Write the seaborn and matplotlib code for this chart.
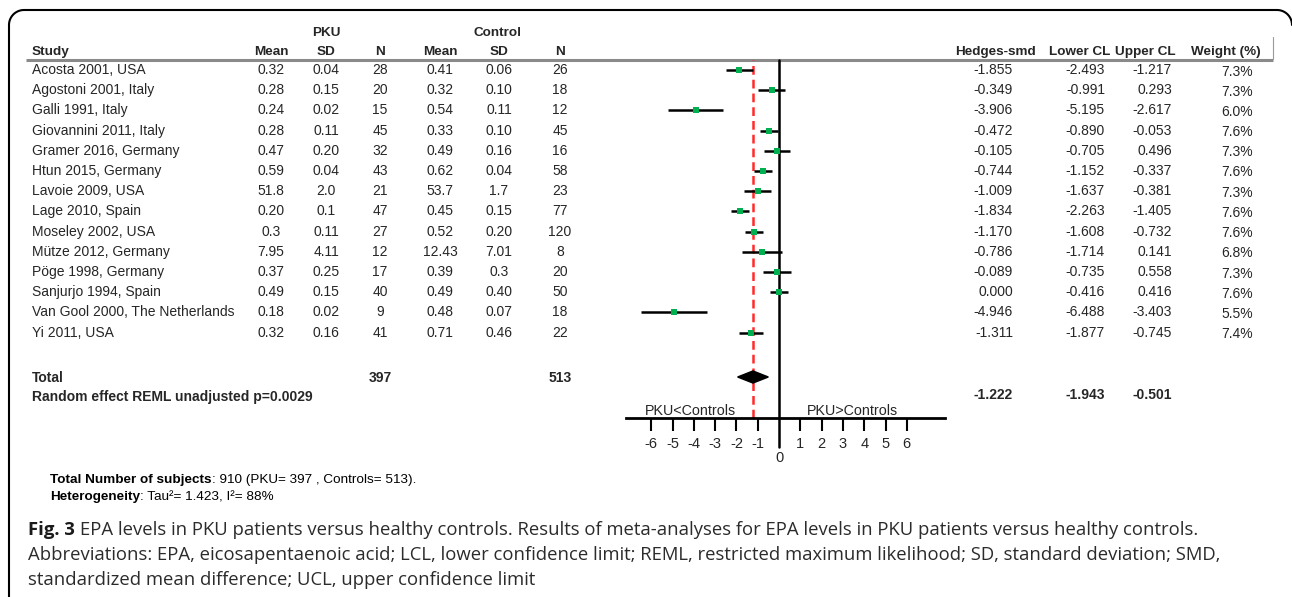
import matplotlib
matplotlib.use("Agg")
import matplotlib.pyplot as plt
import seaborn as sns
import numpy as np
import pandas as pd
from matplotlib.patches import Polygon

# ---------------- data ----------------
studies = ["Acosta 2001, USA", "Agostoni 2001, Italy", "Galli 1991, Italy",
           "Giovannini 2011, Italy", "Gramer 2016, Germany", "Htun 2015, Germany",
           "Lavoie 2009, USA", "Lage 2010, Spain", "Moseley 2002, USA",
           "Mütze 2012, Germany", "Pöge 1998, Germany", "Sanjurjo 1994, Spain",
           "Van Gool 2000, The Netherlands", "Yi 2011, USA"]
pku_mean = ["0.32", "0.28", "0.24", "0.28", "0.47", "0.59", "51.8", "0.20", "0.3",
            "7.95", "0.37", "0.49", "0.18", "0.32"]
pku_sd = ["0.04", "0.15", "0.02", "0.11", "0.20", "0.04", "2.0", "0.1", "0.11",
          "4.11", "0.25", "0.15", "0.02", "0.16"]
pku_n = [28, 20, 15, 45, 32, 43, 21, 47, 27, 12, 17, 40, 9, 41]
ctl_mean = ["0.41", "0.32", "0.54", "0.33", "0.49", "0.62", "53.7", "0.45", "0.52",
            "12.43", "0.39", "0.49", "0.48", "0.71"]
ctl_sd = ["0.06", "0.10", "0.11", "0.10", "0.16", "0.04", "1.7", "0.15", "0.20",
          "7.01", "0.3", "0.40", "0.07", "0.46"]
ctl_n = [26, 18, 12, 45, 16, 58, 23, 77, 120, 8, 20, 50, 18, 22]
hedges = [-1.855, -0.349, -3.906, -0.472, -0.105, -0.744, -1.009, -1.834, -1.170,
          -0.786, -0.089, 0.000, -4.946, -1.311]
lower_cl = [-2.493, -0.991, -5.195, -0.890, -0.705, -1.152, -1.637, -2.263, -1.608,
            -1.714, -0.735, -0.416, -6.488, -1.877]
upper_cl = [-1.217, 0.293, -2.617, -0.053, 0.496, -0.337, -0.381, -1.405, -0.732,
            0.141, 0.558, 0.416, -3.403, -0.745]
weights = [7.3, 7.3, 6.0, 7.6, 7.3, 7.6, 7.3, 7.6, 7.6, 6.8, 7.3, 7.6, 5.5, 7.4]
pooled_est, pooled_lo, pooled_hi = -1.222, -1.943, -0.501
total_pku, total_ctl = 397, 513
axis_ticks = [-6, -5, -4, -3, -2, -1, 1, 2, 3, 4, 5, 6]

df = pd.DataFrame({"study": studies, "smd": hedges, "lo": lower_cl, "hi": upper_cl,
                   "row": np.arange(len(studies))})

# ---------------- figure ----------------
sns.set_theme(style="white")
plt.rcParams["font.family"] = ["Liberation Sans", "DejaVu Sans"]
plt.rcParams["axes.unicode_minus"] = False

W, H = 1292, 597
fig = plt.figure(figsize=(W / 100, H / 100), dpi=100)
bg = fig.add_axes([0, 0, 1, 1])
bg.set_xlim(0, W)
bg.set_ylim(H, 0)
bg.axis("off")

# rounded frame: left side + top with rounded corners (right side is off the picture)
rad = 15
t1 = np.linspace(np.pi, 1.5 * np.pi, 20)
t2 = np.linspace(1.5 * np.pi, 2 * np.pi, 20)
fx = np.concatenate([[9], 9 + rad + rad * np.cos(t1), 1277 + rad * np.cos(t2)])
fy = np.concatenate([[H + 5], 10 + rad + rad * np.sin(t1), 10 + rad + rad * np.sin(t2)])
bg.plot(fx, fy, color="black", lw=1.5)

FS = 10
HFS = 9.7
y0, dy = 70, 20.2

# header
bg.text(326, 33, "PKU", ha="center", va="center", fontsize=HFS, fontweight="bold")
bg.text(498, 33, "Control", ha="center", va="center", fontsize=HFS, fontweight="bold")
bg.text(32, 52, "Study", ha="left", va="center", fontsize=HFS, fontweight="bold")
col_x = [271, 326, 380, 440, 499, 560]
for x, h in zip(col_x, ["Mean", "SD", "N", "Mean", "SD", "N"]):
    bg.text(x, 52, h, ha="center", va="center", fontsize=HFS, fontweight="bold")
for x, h in zip([995, 1080, 1145, 1226], ["Hedges-smd", "Lower CL", "Upper CL", "Weight (%)"]):
    bg.text(x, 52, h, ha="center", va="center", fontsize=HFS, fontweight="bold")
bg.plot([26, 1273], [59.5, 59.5], color="#8a8a8a", lw=2.2, solid_capstyle="butt")
bg.plot([1273, 1273], [37, 59], color="#9a9a9a", lw=0.8)

# rows
right_x = [1013, 1105, 1172]
for i in range(len(studies)):
    y = y0 + dy * i
    bg.text(32, y, studies[i], ha="left", va="center", fontsize=FS)
    for x, v in zip(col_x, [pku_mean[i], pku_sd[i], pku_n[i], ctl_mean[i], ctl_sd[i], ctl_n[i]]):
        bg.text(x, y, str(v), ha="center", va="center", fontsize=FS)
    for x, v in zip(right_x, [hedges[i], lower_cl[i], upper_cl[i]]):
        bg.text(x, y, f"{v:.3f}", ha="right", va="center", fontsize=FS)
    bg.text(1253, y + 1.5, f"{weights[i]:.1f}%", ha="right", va="center", fontsize=FS)

# totals
bg.text(32, 378, "Total", ha="left", va="center", fontsize=FS, fontweight="bold")
bg.text(380, 378, str(total_pku), ha="center", va="center", fontsize=FS, fontweight="bold")
bg.text(560, 378, str(total_ctl), ha="center", va="center", fontsize=FS, fontweight="bold")
bg.text(32, 397, "Random effect REML unadjusted p=0.0029", ha="left", va="center",
        fontsize=FS, fontweight="bold")
for x, v in zip(right_x, [pooled_est, pooled_lo, pooled_hi]):
    bg.text(x, 395, f"{v:.3f}", ha="right", va="center", fontsize=FS, fontweight="bold")

# ---------------- forest axes ----------------
ppu = 21.3          # pixels per unit
x_lo, x_hi = -7.2, 7.8
left_px = 779 + x_lo * ppu
top_px, bot_px = 60, 418
ax = fig.add_axes([left_px / W, 1 - bot_px / H, (x_hi - x_lo) * ppu / W, (bot_px - top_px) / H])
ax.set_facecolor("none")
r_top = (top_px - y0) / dy
r_bot = (bot_px - y0) / dy
ax.set_xlim(x_lo, x_hi)
ax.set_ylim(r_bot, r_top)
for s in ["top", "left", "right"]:
    ax.spines[s].set_visible(False)
ax.spines["bottom"].set_linewidth(2)
ax.spines["bottom"].set_color("black")
ax.set_yticks([])
ax.set_xticks(axis_ticks)
ax.set_xticklabels([str(t) for t in axis_ticks])
ax.tick_params(axis="x", direction="out", length=9.5, width=1.5, color="black",
               labelsize=10.5, pad=4, bottom=True)

# zero line and pooled dashed line
ax.plot([0, 0], [r_top, (447 - y0) / dy], color="black", lw=1.8, clip_on=False, zorder=2)
ax.text(0, (458 - y0) / dy, "0", ha="center", va="center", fontsize=10.5)
ax.axvline(pooled_est, color="#ff2a2a", lw=1.8, ls=(0, (3.5, 2)), zorder=1)

# CIs and points
ax.hlines(df["row"], df["lo"], df["hi"], color="black", lw=1.8, zorder=3)
sns.scatterplot(data=df, x="smd", y="row", marker="s", s=14, color="#00b050",
                linewidth=0, ax=ax, zorder=4, legend=False)
ax.set_xlabel("")
ax.set_ylabel("")

# diamond
r_sum = (377 - y0) / dy
h = 0.3
ax.add_patch(Polygon([[pooled_lo, r_sum], [pooled_est, r_sum - h], [pooled_hi, r_sum],
                      [pooled_est, r_sum + h]], closed=True, fc="black", ec="black", zorder=5))

r_lab = (411 - y0) / dy
ax.text(-4.14, r_lab, "PKU<Controls", ha="center", va="center", fontsize=10.3)
ax.text(3.43, r_lab, "PKU>Controls", ha="center", va="center", fontsize=10.3)

# ---------------- notes & caption ----------------
renderer = fig.canvas.get_renderer()


def rich(x, y, parts, gap=0, **kw):
    for txt, weight, color in parts:
        t = bg.text(x, y, txt, fontweight=weight, color=color, ha="left", va="center", **kw)
        bb = t.get_window_extent(renderer=renderer)
        x += bb.width + gap


rich(50, 480, [("Total Number of subjects", "bold", "black"),
               (": 910 (PKU= 397 , Controls= 513).", "normal", "black")], fontsize=9.7)
rich(50, 497, [("Heterogeneity", "bold", "black"),
               (": Tau²= 1.423, I²= 88%", "normal", "black")], fontsize=9.7)

cap_font = ["Open Sans", "DejaVu Sans"]
CFS = 13.3
rich(28, 530, [("Fig. 3", "bold", "#1a1a1a"),
               ("EPA levels in PKU patients versus healthy controls. Results of meta-analyses "
                "for EPA levels in PKU patients versus healthy controls.", "normal", "#2b2b2b")],
     gap=5, fontsize=CFS, family=cap_font)
bg.text(28, 555, "Abbreviations: EPA, eicosapentaenoic acid; LCL, lower confidence limit; REML, "
        "restricted maximum likelihood; SD, standard deviation; SMD,", ha="left", va="center",
        fontsize=CFS, family=cap_font, color="#2b2b2b")
bg.text(28, 580, "standardized mean difference; UCL, upper confidence limit", ha="left",
        va="center", fontsize=CFS, family=cap_font, color="#2b2b2b")

fig.savefig("out.png", dpi=100)
